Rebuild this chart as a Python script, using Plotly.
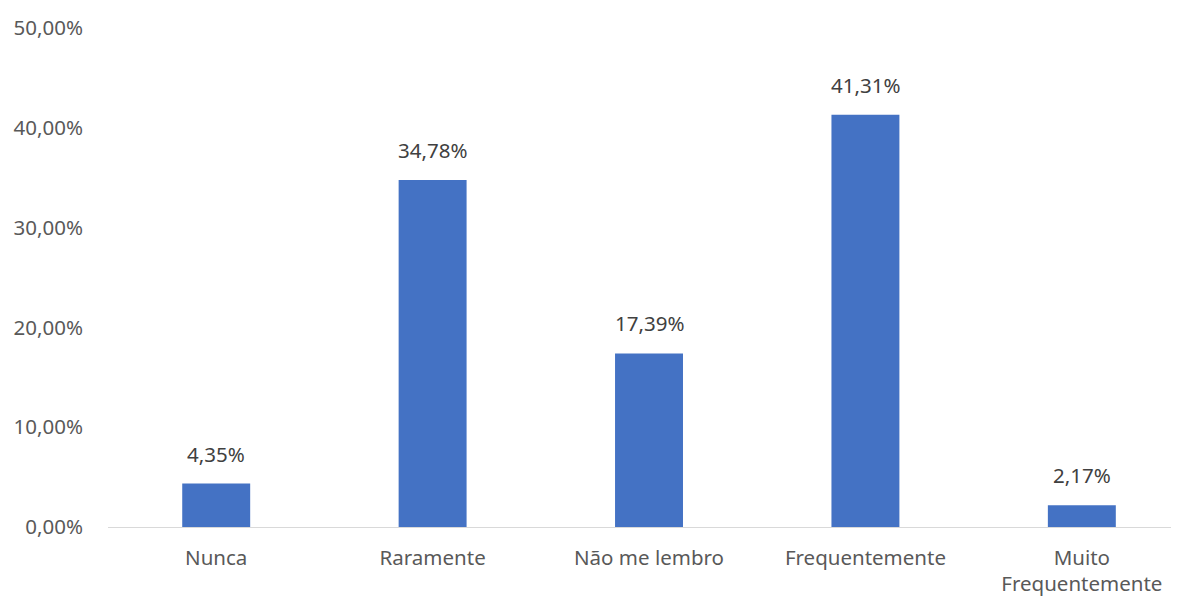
import plotly.graph_objects as go

categories = ["Nunca", "Raramente", "Não me lembro", "Frequentemente", "Muito<br>Frequentemente"]
values = [0.0435, 0.3478, 0.1739, 0.4131, 0.0217]
labels = ["4,35%", "34,78%", "17,39%", "41,31%", "2,17%"]
y_ticks = [0, 0.1, 0.2, 0.3, 0.4, 0.5]

font_family = "Noto Sans, Open Sans, sans-serif"
gray = "#595959"
fs = 20.5

fig = go.Figure()
fig.add_trace(go.Bar(
    x=list(range(len(categories))),
    y=values,
    width=0.314,
    marker=dict(color="#4472C4", line=dict(width=0)),
    hoverinfo="skip",
))

for i, (v, t) in enumerate(zip(values, labels)):
    fig.add_annotation(x=i, y=v, text=t, showarrow=False, yanchor="middle",
                       yshift=30, font=dict(family=font_family, size=fs, color="#404040"))

fig.update_layout(
    width=1171, height=589,
    margin=dict(l=100, r=0, t=20, b=65),
    paper_bgcolor="white", plot_bgcolor="white",
    separators=",.",
    showlegend=False,
    font=dict(family=font_family, size=fs, color=gray),
)
fig.update_xaxes(
    range=[-0.5, 4.449],
    tickmode="array", tickvals=list(range(len(categories))), ticktext=categories,
    showgrid=False, zeroline=False, showline=True, linecolor="#d9d9d9", linewidth=1,
    ticks="", ticklabelstandoff=12,
    tickfont=dict(family=font_family, size=fs, color=gray),
)
fig.update_yaxes(
    range=[0, 0.5], tickvals=y_ticks, tickformat=".2%",
    showgrid=False, zeroline=False, showline=False, ticks="",
    ticklabelstandoff=24,
    tickfont=dict(family=font_family, size=fs, color=gray),
)

fig.write_html("out.html")
